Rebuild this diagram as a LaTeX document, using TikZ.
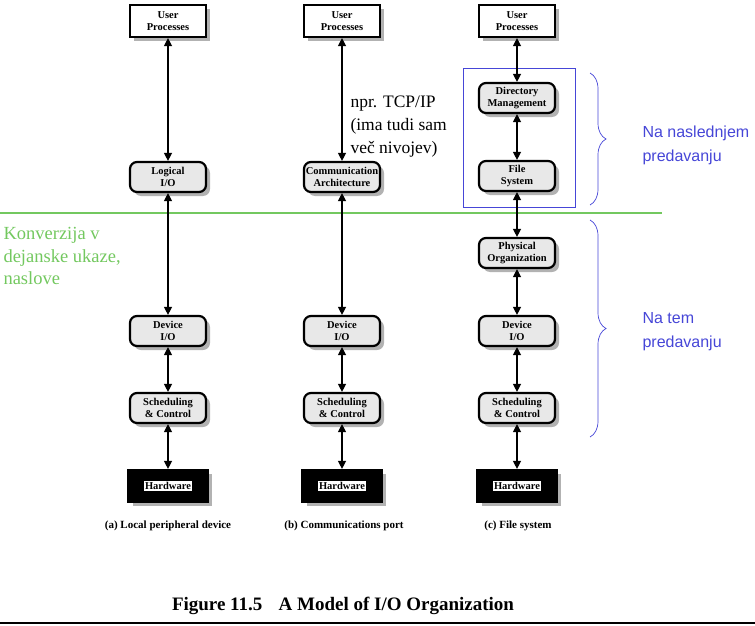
\documentclass[tikz,border=0pt]{standalone}
\usepackage{fontspec}
\setmainfont{Liberation Serif}
\newfontfamily\notefont{Liberation Sans}
\usetikzlibrary{arrows.meta,shadows,decorations.pathreplacing}
\definecolor{konvgreen}{RGB}{115,200,95}
\definecolor{notesblue}{RGB}{70,70,215}
\setlength{\fboxsep}{1.5pt}
\tikzset{
  layer/.style={draw, line width=2.2pt, rounded corners=7pt, fill=gray!18,
    minimum width=76pt, minimum height=30pt, inner sep=0.5pt, align=center,
    font=\fontsize{10.5}{12.5}\selectfont\bfseries,
    drop shadow={shadow xshift=4pt, shadow yshift=-4pt, fill=gray!60, opacity=1}},
  userbox/.style={layer, rounded corners=0pt, fill=white, minimum height=32pt},
  hwbox/.style={layer, rounded corners=0pt, fill=black, minimum width=79pt,
    minimum height=32pt},
  link/.style={{Triangle[length=8pt,width=8pt]}-{Triangle[length=8pt,width=8pt]},
    line width=1.3pt},
  caption/.style={font=\fontsize{11}{13}\selectfont\bfseries},
  lecture/.style={decorate, decoration={brace, amplitude=16pt}, draw=notesblue,
    line width=0.7pt},
  framed/.style={draw=notesblue, line width=1pt, line cap=square},
  notetext/.style={anchor=west, align=left, text=notesblue,
    font=\notefont\fontsize{16}{24}\selectfont}
}
\begin{document}
\begin{tikzpicture}[x=1pt, y=-1pt]
  \useasboundingbox (0,0) rectangle (755,626);

  % meje
  \draw[framed] (463,69) -- (575,69) -- (575,207) -- (463,207) -- (463,69);
  \draw[draw=konvgreen, line width=1.2pt] (0,213) -- (662,213);
  \draw[lecture] (590,73) -- (590,205);
  \draw[lecture] (590,220) -- (590,437);

  % (a) local peripheral device
  \node[userbox] (ua) at (168,21) {User\\Processes};
  \node[layer] (la) at (168,177) {Logical\\I/O};
  \node[layer] (da) at (168,331) {Device\\I/O};
  \node[layer] (sa) at (168,408) {Scheduling\\\& Control};
  \node[hwbox] (ha) at (168,486) {\colorbox{white}{Hardware}};
  \draw[link] (ua) -- (la);
  \draw[link] (la) -- (da);
  \draw[link] (da) -- (sa);
  \draw[link] (sa) -- (ha);
  \node[caption] (capa) at (168,526) {(a) Local peripheral device};

  % (b) communications port
  \node[userbox] (ub) at (342,21) {User\\Processes};
  \node[layer] (cb) at (342,177) {Communication\\Architecture};
  \node[layer] (db) at (342,331) {Device\\I/O};
  \node[layer] (sb) at (342,408) {Scheduling\\\& Control};
  \node[hwbox] (hb) at (342,486) {\colorbox{white}{Hardware}};
  \draw[link] (ub) -- (cb);
  \draw[link] (cb) -- (db);
  \draw[link] (db) -- (sb);
  \draw[link] (sb) -- (hb);
  \node[caption] (capb) at (344,526) {(b) Communications port};

  % (c) file system
  \node[userbox] (uc) at (517,21) {User\\Processes};
  \node[layer] (dmc) at (517,98) {Directory\\Management};
  \node[layer] (fsc) at (517,176) {File\\System};
  \node[layer] (poc) at (517,253) {Physical\\Organization};
  \node[layer] (dc) at (517,331) {Device\\I/O};
  \node[layer] (sc) at (517,408) {Scheduling\\\& Control};
  \node[hwbox] (hc) at (517,486) {\colorbox{white}{Hardware}};
  \draw[link] (uc) -- (dmc);
  \draw[link] (dmc) -- (fsc);
  \draw[link] (fsc) -- (poc);
  \draw[link] (poc) -- (dc);
  \draw[link] (dc) -- (sc);
  \draw[link] (sc) -- (hc);
  \node[caption] (capc) at (518,526) {(c) File system};

  % opombe
  \node[anchor=west, align=left, font=\fontsize{17.5}{23}\selectfont] (tcp)
    at (347,127) {npr. TCP/IP\\(ima tudi sam\\več nivojev)};
  \node[anchor=west, align=left, text=konvgreen, font=\fontsize{18.5}{22.5}\selectfont] (konv)
    at (0,256) {Konverzija v\\dejanske ukaze,\\naslove};
  \node[notetext] (next) at (639,145) {Na naslednjem\\predavanju};
  \node[notetext] (now) at (639,332) {Na tem\\predavanju};

  % slika
  \node[font=\fontsize{19}{22}\selectfont\bfseries] (fig) at (343,606)
    {Figure 11.5\hspace{0.6em} A Model of I/O Organization};
  \draw[line width=2pt] (0,623) -- (755,623);
\end{tikzpicture}
\end{document}
